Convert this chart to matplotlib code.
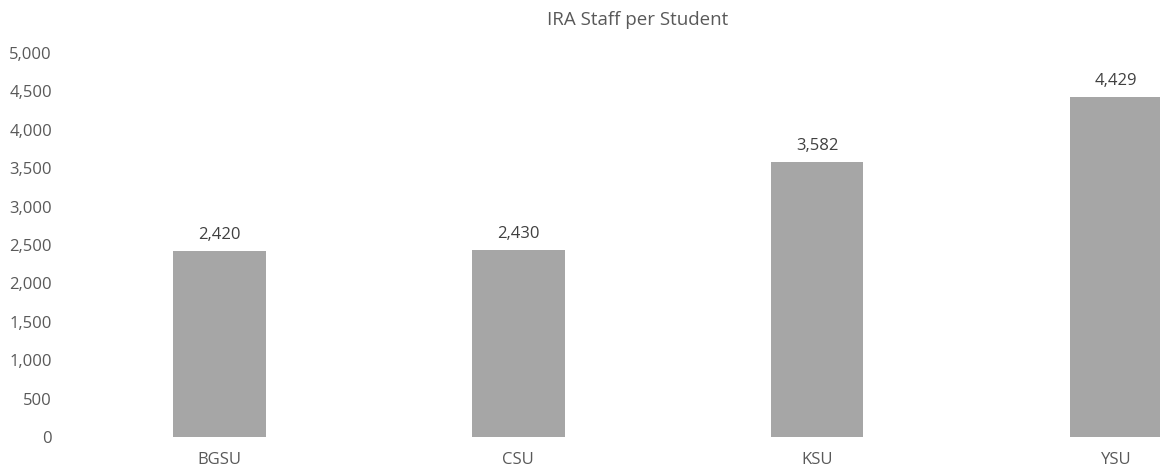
import numpy as np
import matplotlib.pyplot as plt

# data
schools = ["BGSU", "CSU", "KSU", "YSU"]
staff_per_student = [2420, 2430, 3582, 4429]
y_ticks = np.arange(0, 5001, 500)

plt.rcParams['font.family'] = ['Open Sans', 'DejaVu Sans']

fig = plt.figure(figsize=(11.6, 4.71), dpi=100)
ax = fig.add_axes([70/1160, 34/471, 1090/1160, 384/471])

x = np.arange(len(schools))
bars = ax.bar(x, staff_per_student, width=0.31, color="#a6a6a6")

for b, v in zip(bars, staff_per_student):
    ax.annotate(f"{v:,}", (b.get_x() + b.get_width()/2, v), xytext=(0, 6),
                textcoords="offset points", ha="center", va="bottom",
                fontsize=12, color="#404040")

ax.set_xlim(-0.5, 3.5 - 105/298)
ax.set_ylim(0, 5000)
ax.set_yticks(y_ticks)
ax.set_yticklabels([f"{t:,}" for t in y_ticks])
ax.set_xticks(x)
ax.set_xticklabels(schools)
ax.tick_params(axis="both", length=0, labelsize=12, colors="#595959")
ax.tick_params(axis="y", pad=13)
ax.tick_params(axis="x", pad=11)
for s in ax.spines.values():
    s.set_visible(False)

fig.text(638/1160, 1 - 20/471, "IRA Staff per Student", ha="center", va="center",
         fontsize=13.5, color="#595959")

plt.savefig("out.png", dpi=100)
